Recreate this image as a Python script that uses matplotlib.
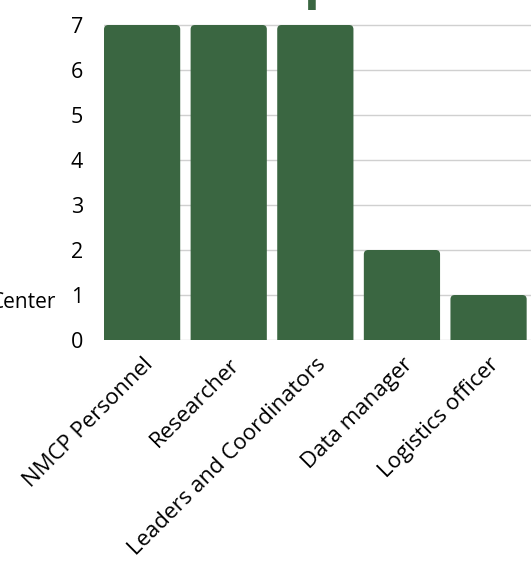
import matplotlib
matplotlib.use("Agg")
import matplotlib.pyplot as plt
from matplotlib.patches import FancyBboxPatch

plt.rcParams['font.family'] = ['Open Sans', 'DejaVu Sans']

roles = ['NMCP Personnel', 'Researcher', 'Leaders and Coordinators',
         'Data manager', 'Logistics officer']
counts = [7, 7, 7, 2, 1]
yticks = [0, 1, 2, 3, 4, 5, 6, 7]

green = '#3a6641'

fig = plt.figure(figsize=(5.31, 5.67), dpi=100)
ax = fig.add_axes([104 / 531, 1 - 340 / 567, 1 - 104 / 531, (340 - 11.5) / 567])

bars = ax.bar(range(len(roles)), counts, width=0.88, color=green, zorder=3)
# swap plain bars for rounded ones
for b in bars:
    x, y = b.get_x(), b.get_y()
    w, h = b.get_width(), b.get_height()
    b.remove()
    ax.add_patch(FancyBboxPatch((x, y - 0.2), w, h + 0.2,
                                boxstyle="round,pad=0,rounding_size=0.05",
                                mutation_aspect=1.9, fc=green, ec='none',
                                zorder=3))

ax.set_xlim(-0.44, 4.49)
ax.set_ylim(0, 7.3)
ax.set_yticks(yticks)
ax.yaxis.grid(True, color='#d0d0d0', lw=1, zorder=0)
for s in ax.spines.values():
    s.set_visible(False)
ax.tick_params(axis='y', length=0, pad=15, labelsize=15.5)
ax.tick_params(axis='x', length=0, pad=10, labelsize=16)
ax.set_xticks(range(len(roles)))
ax.set_xticklabels(roles, rotation=45, ha='right', rotation_mode='anchor')

# cut-off pieces of the surrounding page
fig.text(56 / 531, 1 - 303 / 567, 'Center', ha='right', va='center', fontsize=15)
fig.text(304 / 531, 1 + 3 / 567, 'p', color=green, ha='left',
         va='baseline', fontsize=38, fontweight='bold')

fig.savefig('out.png', dpi=100)
